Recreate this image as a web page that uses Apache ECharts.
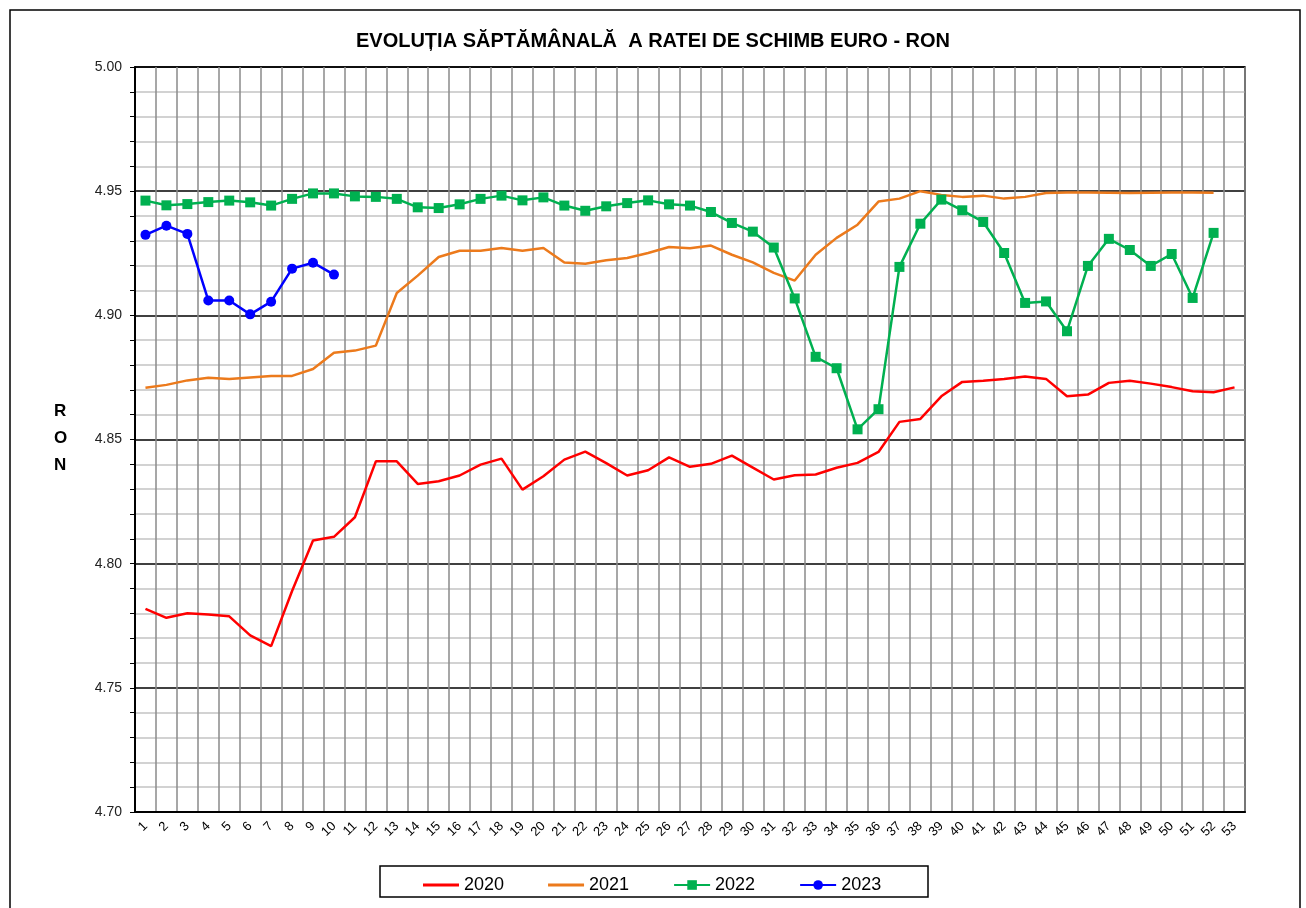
<!DOCTYPE html>
<html>
<head>
<meta charset="utf-8">
<script src="https://cdn.jsdelivr.net/npm/echarts@6/dist/echarts.min.js"></script>
<style>html,body{margin:0;padding:0;background:#fff}#c{width:1306px;height:908px}</style>
</head>
<body>
<div id="c"></div>
<script>
var weeks = [];
for (var i = 1; i <= 53; i++) weeks.push(String(i));

var y2020 = [4.7818,4.7782,4.7800,4.7795,4.7788,4.7711,4.7668,4.7890,4.8093,4.8108,
             4.8187,4.8412,4.8412,4.8321,4.8332,4.8355,4.8399,4.8423,4.8298,4.8352,
             4.8419,4.8451,4.8405,4.8355,4.8376,4.8428,4.8390,4.8402,4.8435,4.8387,
             4.8339,4.8356,4.8359,4.8386,4.8406,4.8450,4.8571,4.8583,4.8674,4.8732,
             4.8737,4.8744,4.8754,4.8744,4.8674,4.8681,4.8728,4.8737,4.8725,4.8711,
             4.8694,4.8690,4.8710];
var y2021 = [4.8708,4.8720,4.8738,4.8749,4.8744,4.8750,4.8756,4.8756,4.8784,4.8849,
             4.8858,4.8878,4.9090,4.9160,4.9235,4.9260,4.9260,4.9271,4.9260,4.9271,
             4.9213,4.9208,4.9222,4.9231,4.9251,4.9275,4.9270,4.9281,4.9244,4.9213,
             4.9171,4.9140,4.9244,4.9312,4.9365,4.9458,4.9470,4.9500,4.9485,4.9477,
             4.9482,4.9470,4.9477,4.9493,4.9495,4.9495,4.9494,4.9493,4.9494,4.9495,
             4.9495,4.9494];
var y2022 = [4.9462,4.9443,4.9448,4.9456,4.9462,4.9455,4.9442,4.9469,4.9491,4.9491,
             4.9479,4.9477,4.9469,4.9435,4.9432,4.9447,4.9469,4.9482,4.9463,4.9475,
             4.9442,4.9421,4.9439,4.9452,4.9463,4.9447,4.9442,4.9416,4.9372,4.9337,
             4.9273,4.9068,4.8833,4.8787,4.8541,4.8622,4.9195,4.9369,4.9466,4.9423,
             4.9376,4.9251,4.9050,4.9056,4.8936,4.9199,4.9308,4.9263,4.9199,4.9247,
             4.9070,4.9332];
var y2023 = [4.9324,4.9361,4.9328,4.9060,4.9060,4.9004,4.9055,4.9188,4.9212,4.9164];

var seriesNames = ['2020','2021','2022','2023'];
var titleText = 'EVOLUȚIA SĂPTĂMÂNALĂ  A RATEI DE SCHIMB EURO - RON';
var yName = 'R\nO\nN';

var chart = echarts.init(document.getElementById('c'), null, {renderer:'canvas'});
var font = 'Arial, "Liberation Sans", sans-serif';
var lineIcon = 'path://M0,0H36V3H0Z';

chart.setOption({
  backgroundColor: '#fff',
  animation: false,
  title: {
    text: titleText, left: 'center', top: 26,
    textStyle: {fontFamily: font, fontSize: 20, fontWeight: 'bold', color: '#000'}
  },
  graphic: [
    {type:'rect', shape:{x:10, y:10, width:1290, height:920}, style:{fill:'none', stroke:'#000', lineWidth:1.5}, silent:true},
    {type:'rect', shape:{x:380, y:866, width:548, height:31}, style:{fill:'#fff', stroke:'#000', lineWidth:1.5}, silent:true, z:-1},
    {type:'text', left: 54, top: 398, style:{text: yName, font: 'bold 17px Arial, "Liberation Sans", sans-serif', fill:'#000', lineHeight: 27, align:'center'}}
  ],
  legend: {
    data: [
      {name: seriesNames[0], icon: lineIcon},
      {name: seriesNames[1], icon: lineIcon},
      {name: seriesNames[2]},
      {name: seriesNames[3]}
    ],
    left: 418, top: 871,
    itemWidth: 36, itemHeight: 12, itemGap: 44,
    textStyle: {fontFamily: font, fontSize: 18, color: '#000'}
  },
  grid: {left: 135, top: 67, right: 61, bottom: 96, show: true, borderColor: '#000', borderWidth: 1.5, backgroundColor: 'transparent'},
  xAxis: {
    type: 'category', data: weeks, boundaryGap: true,
    axisLine: {lineStyle: {color: '#000', width: 2}},
    axisTick: {show: false},
    axisLabel: {rotate: 45, interval: 0, fontFamily: font, fontSize: 13, color: '#000', margin: 12},
    splitLine: {show: true, interval: 0, lineStyle: {color: '#8a8a8a', width: 1.5}}
  },
  yAxis: {
    type: 'value', min: 4.70, max: 5.00, interval: 0.05,
    axisLine: {show: true, lineStyle: {color: '#000', width: 2}},
    axisTick: {show: true, length: 5, lineStyle: {color: '#000'}},
    minorTick: {show: true, splitNumber: 5, length: 5, lineStyle: {color: '#000'}},
    axisLabel: {formatter: function(v){ return v.toFixed(2); }, fontFamily: font, fontSize: 14, color: '#222', margin: 13},
    splitLine: {show: true, lineStyle: {color: '#000', width: 1.5}},
    minorSplitLine: {show: true, lineStyle: {color: '#c4c4c4', width: 1.5}}
  },
  series: [
    {name: seriesNames[0], type: 'line', data: y2020, symbol: 'none', lineStyle: {color: '#ff0000', width: 2.5}, itemStyle: {color: '#ff0000'}},
    {name: seriesNames[1], type: 'line', data: y2021, symbol: 'none', lineStyle: {color: '#ec7a1c', width: 2.5}, itemStyle: {color: '#ec7a1c'}},
    {name: seriesNames[2], type: 'line', data: y2022, symbol: 'rect', symbolSize: 10, lineStyle: {color: '#00b050', width: 2.5}, itemStyle: {color: '#00b050'}},
    {name: seriesNames[3], type: 'line', data: y2023, symbol: 'circle', symbolSize: 10, lineStyle: {color: '#0000ff', width: 2.5}, itemStyle: {color: '#0000ff'}}
  ]
});
</script>
</body>
</html>
